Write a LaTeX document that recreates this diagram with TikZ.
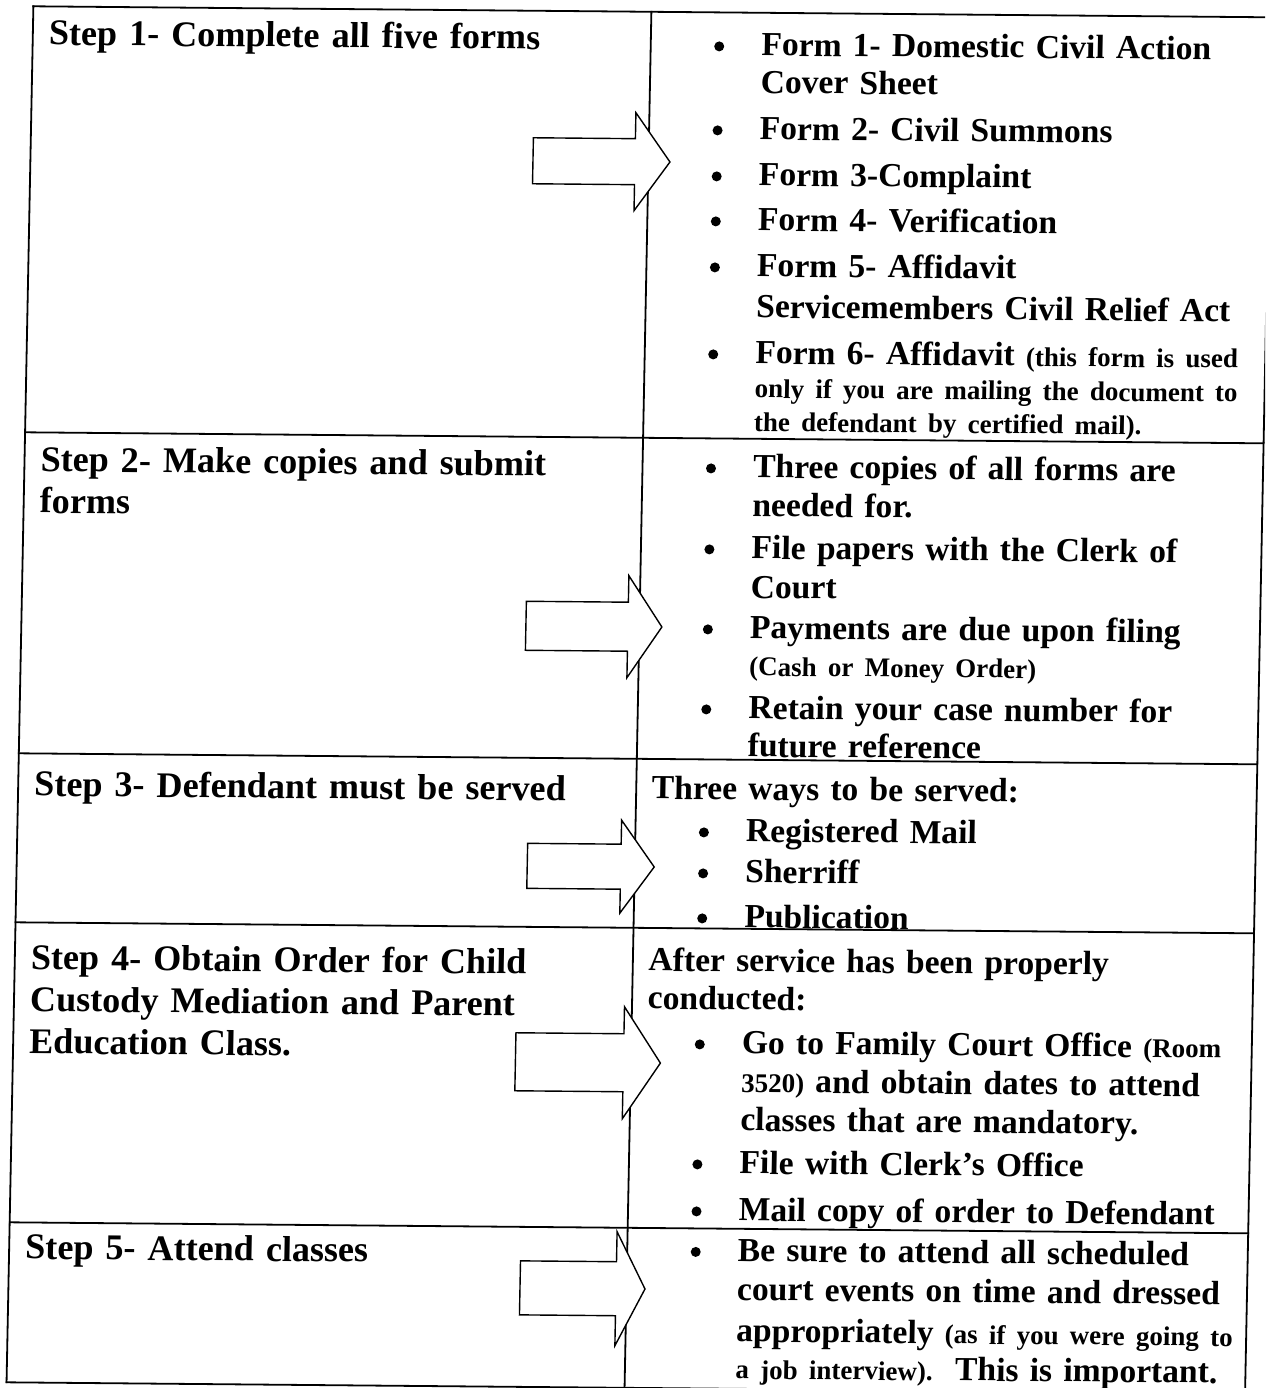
\documentclass[tikz,border=0pt]{standalone}
\usepackage{fontspec}
\setmainfont{Liberation Serif}
\usetikzlibrary{positioning}

% smaller type for the remarks in brackets
\newcommand{\parenfont}{\fontsize{27}{33}\selectfont}

\begin{document}
\begin{tikzpicture}[
    x=1pt, y=-1pt,
    % Styles for the table rules and the block arrows
    rule/.style={draw, line width=1.8pt, line cap=rect},
    bigarrow/.style={draw, line width=1.4pt, fill=white, line join=miter},
    % Styles for the texts in the two columns
    steptext/.style={anchor=base west, inner sep=0pt, text width=580pt, align=left,
        font=\bfseries\fontsize{36.1}{40.5}\selectfont},
    itemtext/.style={anchor=base west, inner sep=0pt, text width=520pt, align=left,
        font=\bfseries\fontsize{33.6}{38.5}\selectfont},
    itemdot/.style={circle, fill, inner sep=0pt, minimum size=10pt}
]

% Define a command for one bullet item of the right column: name, baseline, text
\newcommand{\listitem}[3]{
    \node [itemtext] (#1) at (762,#2) {#3};
    \node [itemdot] (#1dot) at (720,#2-9) {}; % bullet left of the text
}

% Define a command for a block arrow: tail, head base, tip, middle, shaft half height, head half height
\newcommand{\blockarrow}[6]{
    \draw [bigarrow] (#1,#4-#5) -- (#2,#4-#5) -- (#2,#4-#6) -- (#3,#4)
        -- (#2,#4+#6) -- (#2,#4+#5) -- (#1,#4+#5) -- cycle;
}

\fill [white] (0,0) rectangle (1265,1388);
\useasboundingbox (0,0) rectangle (1265,1388);
\clip (0,0) rectangle (1265,1388);

% The scanned page is a little skewed
\begin{scope}[cm={1,-0.0089,0.0195,1,(0,0)}, transform shape]

% Table rules
\foreach \rv in {6,432,753,922,1222,1382}
    \draw [rule] (33.5,\rv) -- (1272,\rv);
\foreach \cu in {33.5,651.5,1272}
    \draw [rule] (\cu,6) -- (\cu,1382);

% Steps in the left column
\node [steptext] (s1) at (49.5,44.5) {Step 1- Complete all five forms};
\node [steptext] (s2) at (49.5,471) {Step 2- Make copies and submit\\[1pt]forms};
\node [steptext] (s3) at (49.5,795.5) {Step 3- Defendant must be served};
\node [steptext] (s4) at (49.5,969) {Step 4- Obtain Order for Child\\[1.5pt]Custody Mediation and Parent\\[1.5pt]Education Class.};
\node [steptext] (s5) at (49.5,1258.5) {Step 5- Attend classes};

% Arrows from the steps to the details
\blockarrow{536}{638}{673}{156}{23}{49}
\blockarrow{538}{640}{674}{621}{24.5}{51}
\blockarrow{544}{637.5}{671}{861}{22.5}{46.5}
\blockarrow{536}{644}{681}{1057}{29}{56}
\blockarrow{545}{641}{670}{1283}{27}{57}

% Details of step 1
\listitem{f1}{49}{Form 1- Domestic Civil Action\\[-1pt]Cover Sheet}
\listitem{f2}{133}{Form 2- Civil Summons}
\listitem{f3}{179}{Form 3-Complaint}
\listitem{f4}{224}{Form 4- Verification}
\listitem{f5}{270}{Form 5- Affidavit\\[2.5pt]Servicemembers Civil Relief Act}
\listitem{f6}{357}{Form 6- Affidavit {\parenfont(this form is used}\\[-4.5pt]{\parenfont only if you are mailing the document to}\\[-5pt]{\parenfont the defendant by certified mail).}}

% Details of step 2
\listitem{c1}{471}{Three copies of all forms are\\needed for.}
\listitem{c2}{552}{File papers with the Clerk of\\[1pt]Court}
\listitem{c3}{632}{Payments are due upon filing\\[-1.5pt]{\parenfont(Cash or Money Order)}}
\listitem{c4}{712}{Retain your case number for\\[-0.5pt]future reference}

% Details of step 3
\node [itemtext] (w0) at (667,793) {Three ways to be served:};
\listitem{w1}{835}{Registered Mail}
\listitem{w2}{876}{Sherriff}
\listitem{w3}{921}{Publication}

% Details of step 4
\node [itemtext] (o0) at (667,965) {After service has been properly\\[-0.5pt]conducted:};
\listitem{o1}{1047}{Go to Family Court Office {\parenfont(Room}\\{\parenfont 3520)} and obtain dates to attend\\classes that are mandatory.}
\listitem{o2}{1167}{File with Clerk’s Office}
\listitem{o3}{1214}{Mail copy of order to Defendant}

% Details of step 5
\listitem{a1}{1254.5}{Be sure to attend all scheduled\\[0.5pt]court events on time and dressed\\[3pt]appropriately {\parenfont(as if you were going to}\\[-1.5pt]{\parenfont a job interview).}\ \ This is important.}

\end{scope}

\end{tikzpicture}
\end{document}
